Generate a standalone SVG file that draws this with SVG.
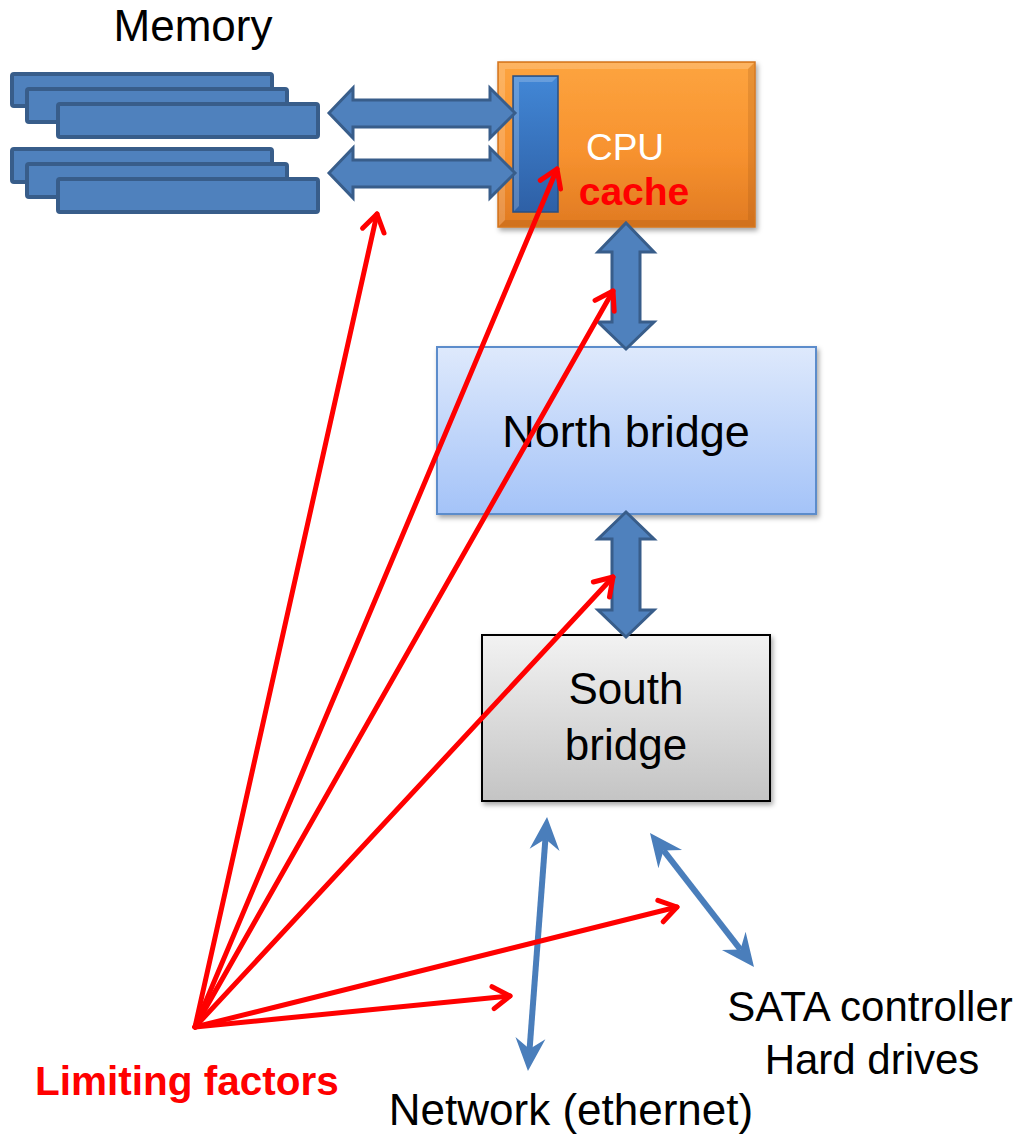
<svg xmlns="http://www.w3.org/2000/svg" width="1025" height="1136" viewBox="0 0 1025 1136">
  <defs>
    <linearGradient id="gCpu" x1="0" y1="0" x2="0" y2="1">
      <stop offset="0" stop-color="#FDA43F"/>
      <stop offset="0.55" stop-color="#F7922F"/>
      <stop offset="1" stop-color="#E07A22"/>
    </linearGradient>
    <linearGradient id="gCache" x1="0" y1="0" x2="0" y2="1">
      <stop offset="0" stop-color="#4287D6"/>
      <stop offset="1" stop-color="#2E60A6"/>
    </linearGradient>
    <linearGradient id="gNorth" x1="0" y1="0" x2="0" y2="1">
      <stop offset="0" stop-color="#DEE9FC"/>
      <stop offset="1" stop-color="#A4C3F8"/>
    </linearGradient>
    <linearGradient id="gSouth" x1="0" y1="0" x2="0" y2="1">
      <stop offset="0" stop-color="#F2F2F2"/>
      <stop offset="1" stop-color="#C4C4C4"/>
    </linearGradient>
    <filter id="shadow" x="-10%" y="-10%" width="125%" height="130%">
      <feDropShadow dx="2" dy="3" stdDeviation="2.5" flood-color="#000" flood-opacity="0.35"/>
    </filter>
    <!-- open red arrowhead -->
    <marker id="redHead" markerUnits="userSpaceOnUse" viewBox="-22 -15 28 30" refX="0" refY="0" markerWidth="28" markerHeight="30" orient="auto">
      <path d="M-17,-11 L0,0 L-17,11" fill="none" stroke="#FF0000" stroke-width="5" stroke-linecap="round" stroke-linejoin="round"/>
    </marker>
    <!-- notched blue arrowhead; tip sits 22px beyond the line end -->
    <marker id="blueHead" markerUnits="userSpaceOnUse" viewBox="-14 -17 38 34" refX="0" refY="0" markerWidth="38" markerHeight="34" orient="auto-start-reverse">
      <path d="M22,0 L-11,-15 L0,0 L-11,15 z" fill="#4A7EBB"/>
    </marker>
    <style>
      .bar { fill: #4F81BD; stroke: #385D8A; stroke-width: 4; }
      .block { fill: #4F81BD; stroke: #385D8A; stroke-width: 3; stroke-linejoin: miter; }
      .red { fill: none; stroke: #FF0000; stroke-width: 5; stroke-linecap: round; marker-end: url(#redHead); }
      .blue { fill: none; stroke: #4A7EBB; stroke-width: 6; marker-start: url(#blueHead); marker-end: url(#blueHead); }
      .lbl { font-family: "Liberation Sans", Arial, sans-serif; fill: #000; text-anchor: middle; }
    </style>
  </defs>

  <rect width="1025" height="1136" fill="#FFFFFF"/>

  <!-- memory modules -->
  <g id="memory">
    <rect class="bar" x="12" y="74" width="260" height="32" rx="2"/>
    <rect class="bar" x="27" y="89" width="260" height="33" rx="2"/>
    <rect class="bar" x="58" y="104" width="260" height="33" rx="2"/>
    <rect class="bar" x="12" y="149" width="260" height="33" rx="2"/>
    <rect class="bar" x="27" y="164" width="260" height="33" rx="2"/>
    <rect class="bar" x="58" y="179" width="260" height="33" rx="2"/>
    <text class="lbl" x="193" y="41" font-size="44">Memory</text>
  </g>

  <!-- CPU with cache -->
  <g id="cpu">
    <rect x="498" y="62" width="257" height="165" fill="url(#gCpu)" stroke="#D2761F" stroke-width="1.5" filter="url(#shadow)"/>
    <path d="M499,63 L754,63 L748,69 L505,69 L505,220 L499,226 Z" fill="#FFFFFF" opacity="0.18"/>
    <path d="M754,63 L754,226 L499,226 L505,220 L748,220 L748,69 Z" fill="#8A4A10" opacity="0.18"/>
    <rect x="513" y="76" width="45" height="136" fill="url(#gCache)" stroke="#2B4F80" stroke-width="1.5"/>
    <path d="M514,77 L557,77 L552,82 L519,82 L519,206 L514,211 Z" fill="#FFFFFF" opacity="0.2"/>
    <text x="625" y="160" font-family="Liberation Sans, Arial, sans-serif" font-size="37" fill="#FFFFFF" text-anchor="middle">CPU</text>
    <text x="634" y="205" font-family="Liberation Sans, Arial, sans-serif" font-size="39" font-weight="bold" fill="#FF0000" text-anchor="middle">cache</text>
  </g>

  <!-- north bridge -->
  <g id="north-bridge">
    <rect x="437" y="347" width="379" height="167" fill="url(#gNorth)" stroke="#5B8CCB" stroke-width="2" filter="url(#shadow)"/>
    <text class="lbl" x="626" y="447" font-size="45">North bridge</text>
  </g>

  <!-- south bridge -->
  <g id="south-bridge">
    <rect x="482" y="635" width="288" height="166" fill="url(#gSouth)" stroke="#000000" stroke-width="2" filter="url(#shadow)"/>
    <text class="lbl" x="626" y="704" font-size="44">South</text>
    <text class="lbl" x="626" y="760" font-size="44">bridge</text>
  </g>

  <!-- peripheral labels -->
  <g id="sata">
    <text class="lbl" x="870" y="1021" font-size="42">SATA controller</text>
    <text class="lbl" x="872" y="1074" font-size="42">Hard drives</text>
  </g>
  <g id="network">
    <text class="lbl" x="571" y="1125" font-size="44">Network (ethernet)</text>
  </g>
  <g id="limiting-factors">
    <text x="187" y="1095" font-family="Liberation Sans, Arial, sans-serif" font-size="40.5" font-weight="bold" fill="#FF0000" text-anchor="middle">Limiting factors</text>
  </g>

  <!-- connectors -->
  <g id="connectors">
    <!-- memory buses -->
    <polygon class="block" points="329,113 353,88 353,100 490,100 490,88 515,113 490,138 490,127 353,127 353,138"/>
    <polygon class="block" points="329,173 353,148 353,160 490,160 490,148 515,173 490,198 490,187 353,187 353,198"/>
    <!-- CPU to north bridge -->
    <polygon class="block" points="626,223 654,252 640,252 640,322 654,322 626,349 598,322 612,322 612,252 598,252"/>
    <!-- north bridge to south bridge -->
    <polygon class="block" points="626,512 654,539 640,539 640,610 654,610 626,637 598,610 612,610 612,539 598,539"/>
    <!-- south bridge links -->
    <line class="blue" x1="545.4" y1="839" x2="529.6" y2="1049"/>
    <line class="blue" x1="663.5" y1="850.4" x2="740.5" y2="949.6"/>
    <!-- limiting factors -->
    <line class="red" x1="195" y1="1027" x2="377" y2="214"/>
    <line class="red" x1="195" y1="1027" x2="557" y2="169"/>
    <line class="red" x1="195" y1="1027" x2="613" y2="291"/>
    <line class="red" x1="195" y1="1027" x2="613" y2="577"/>
    <line class="red" x1="195" y1="1027" x2="677" y2="907"/>
    <line class="red" x1="195" y1="1027" x2="510" y2="996"/>
  </g>
</svg>
